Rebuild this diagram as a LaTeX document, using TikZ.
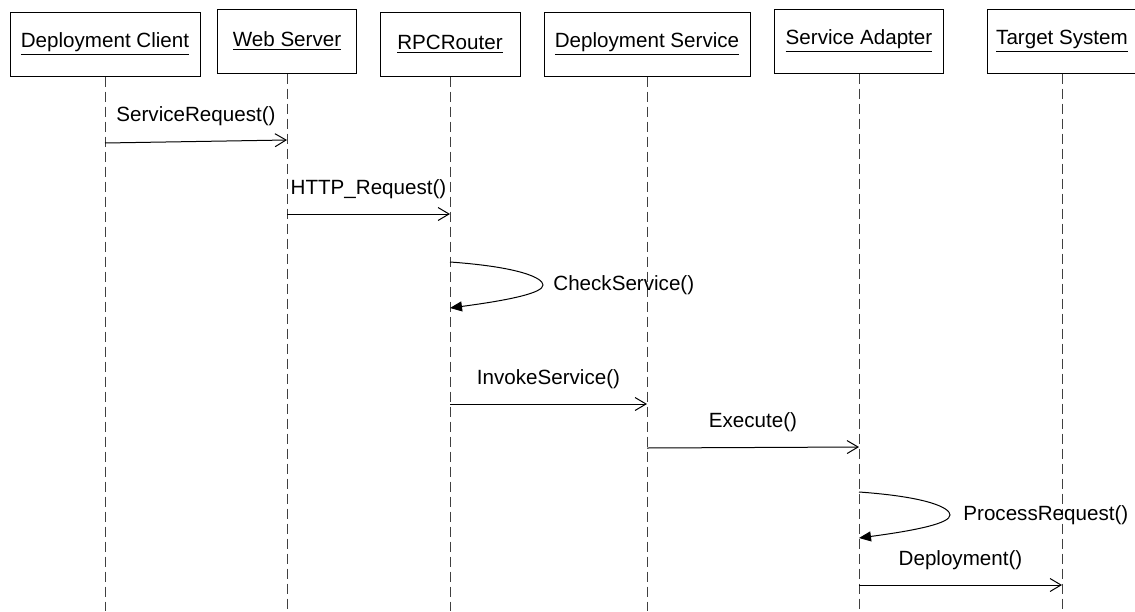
\documentclass[tikz,border=0pt]{standalone}
\usepackage{fontspec}
\setmainfont{Liberation Sans}
\usetikzlibrary{arrows.meta}

\tikzset{
    obj/.style={draw, line width=0.5pt, minimum height=32pt, inner sep=2pt,
        font=\fontsize{10.3}{12}\selectfont},
    lifeline/.style={draw=black!75, line width=0.5pt, dash pattern=on 5pt off 2.5pt},
    msg/.style={line width=0.5pt, -{Straight Barb[length=5.5pt,width=6.5pt]}},
    selfmsg/.style={line width=0.5pt, -{Triangle[length=6pt,width=5pt]}},
    msglabel/.style={above, inner sep=0pt, yshift=7.5pt, font=\fontsize{10.3}{12}\selectfont},
    looplabel/.style={anchor=west, inner sep=0pt, font=\fontsize{10.3}{12}\selectfont}
}

\begin{document}
\begin{tikzpicture}[x=0.5pt, y=-0.5pt]
    \useasboundingbox (0,0) rectangle (1135,611);

    % objects along the top
    \node(dc) [obj, minimum width=95pt] at (105,44) {\underline{Deployment Client}};
    \node(ws) [obj, minimum width=69.5pt] at (287,41) {\underline{Web Server}};
    \node(rpc) [obj, minimum width=70pt] at (450,44) {\underline{RPCRouter}};
    \node(ds) [obj, minimum width=103pt] at (647,44) {\underline{Deployment Service}};
    \node(sa) [obj, minimum width=84.5pt] at (859,41) {\underline{Service Adapter}};
    \node(ts) [obj, minimum width=75pt] at (1062,41) {\underline{Target System}};

    % lifelines
    \foreach \n in {dc,ws,rpc,ds,sa,ts} {
        \coordinate (\n-end) at (\n.south |- 0,611);
        \draw[lifeline] (\n.south) -- (\n-end);
    }

    % messages
    \draw[msg] (dc |- 0,143) -- node[msglabel] {ServiceRequest()} (ws |- 0,140);
    \draw[msg] (ws |- 0,214) -- node[msglabel] {HTTP\_Request()} (rpc |- 0,214);

    \coordinate (chk) at (543,285);
    \draw[selfmsg] (rpc |- 0,262) .. controls +(70,5) and +(0,-7) .. (chk)
        .. controls +(0,8) and +(60,-8) .. (rpc |- 0,308);
    \node(chkText) [looplabel] at ([xshift=5pt]chk) {CheckService()};

    \draw[msg] (rpc |- 0,404) -- node[msglabel] {InvokeService()} (ds |- 0,404);
    \draw[msg] (ds |- 0,448) -- node[msglabel] {Execute()} (sa |- 0,447);

    \coordinate (proc) at (950,515);
    \draw[selfmsg] (sa |- 0,492) .. controls +(70,5) and +(0,-7) .. (proc)
        .. controls +(0,8) and +(60,-8) .. (sa |- 0,538);
    \node(procText) [looplabel] at ([xshift=6.5pt]proc) {ProcessRequest()};

    \draw[msg] (sa |- 0,585) -- node[msglabel] {Deployment()} (ts |- 0,585);
\end{tikzpicture}
\end{document}
